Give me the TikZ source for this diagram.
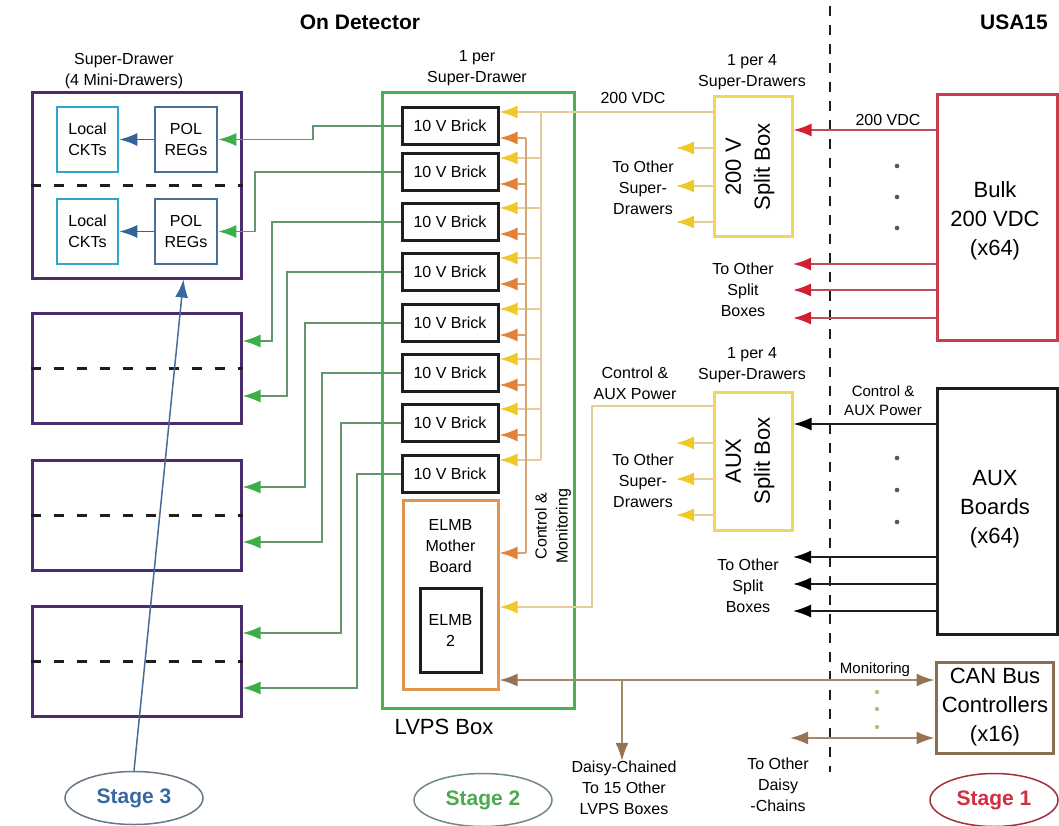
\documentclass[tikz,border=0pt]{standalone}
\usepackage{fontspec}
\setmainfont{Liberation Sans}
\usetikzlibrary{arrows.meta,shapes.geometric}
\definecolor{cpurple}{RGB}{75,45,110}
\definecolor{ccyan}{RGB}{45,165,205}
\definecolor{csteel}{RGB}{70,110,150}
\definecolor{cblue}{RGB}{50,100,150}
\definecolor{cgreenbox}{RGB}{75,175,85}
\definecolor{cgreenline}{RGB}{100,150,110}
\definecolor{cgreenhead}{RGB}{60,175,75}
\definecolor{cyelbox}{RGB}{240,215,90}
\definecolor{cyelline}{RGB}{228,205,150}
\definecolor{cyelhead}{RGB}{240,200,40}
\definecolor{corline}{RGB}{215,165,115}
\definecolor{corhead}{RGB}{225,130,55}
\definecolor{corbox}{RGB}{225,150,80}
\definecolor{credbox}{RGB}{200,60,75}
\definecolor{credline}{RGB}{190,80,90}
\definecolor{credhead}{RGB}{210,30,50}
\definecolor{cbrown}{RGB}{165,135,105}
\definecolor{cbrownhead}{RGB}{150,115,85}
\definecolor{cbrownbox}{RGB}{140,110,80}
\definecolor{cdark}{RGB}{30,30,30}
\definecolor{ctan}{RGB}{200,180,140}
\definecolor{cstagethree}{RGB}{55,105,160}
\definecolor{cstagetwo}{RGB}{75,170,80}
\definecolor{cstageone}{RGB}{210,45,65}
\tikzset{
  small/.style={font=\fontsize{16}{21}\selectfont, align=center, inner sep=0pt},
  big/.style={font=\fontsize{22}{29}\selectfont, align=center, inner sep=0pt},
  title/.style={font=\fontsize{21}{25}\selectfont\bfseries, inner sep=0pt},
  sdbox/.style={draw=cpurple, line width=3pt, minimum width=209pt, inner sep=0pt},
  sddash/.style={cdark, line width=3pt, dash pattern=on 10pt off 13pt},
  locbox/.style={draw=ccyan, line width=2.5pt, minimum width=61pt, minimum height=65pt, small},
  polbox/.style={draw=csteel, line width=2.5pt, minimum width=62pt, minimum height=65pt, small},
  brick/.style={draw=cdark, line width=3pt, minimum width=96pt, minimum height=37pt, small},
  splitbox/.style={draw=cyelbox, line width=3pt, minimum width=78pt, minimum height=140pt},
  rightbox/.style={line width=3pt, minimum width=120pt},
  ahead/.style={-{Latex[length=18pt,width=13pt,color=#1]}},
  gline/.style={cgreenline, line width=1.8pt, ahead=cgreenhead},
  yline/.style={cyelline, line width=1.8pt},
  yarr/.style={cyelline, line width=1.8pt, ahead=cyelhead},
  oline/.style={corline, line width=1.8pt},
  oarr/.style={corline, line width=1.8pt, ahead=corhead},
  rarr/.style={credline, line width=1.8pt, ahead=credhead},
  karr/.style={cdark, line width=1.8pt, ahead=black},
  barr/.style={cbrown, line width=2pt, ahead=cbrownhead},
  bbarr/.style={cbrown, line width=2pt, {Latex[length=18pt,width=13pt,color=cbrownhead]}-{Latex[length=18pt,width=13pt,color=cbrownhead]}},
  stage/.style={ellipse, draw, line width=1.5pt, minimum width=138pt, minimum height=53pt, inner sep=0pt, font=\fontsize{21}{25}\selectfont\bfseries},
}
\begin{document}
\begin{tikzpicture}[x=1pt,y=-1pt]
\useasboundingbox (0,0) rectangle (1059,826);

% titles and divider
\node[title] (tdet) at (360,22) {On Detector};
\node[title] (tusa) at (1014,22) {USA15};
\coordinate (divtop) at (830,6);
\coordinate (divbot) at (830,772);
\draw[cdark, line width=1.8pt, dash pattern=on 10pt off 9pt] (divtop) -- (divbot);

% super-drawers
\node[small] (sdlab) at (124,71) {Super-Drawer\\(4 Mini-Drawers)};
\node[sdbox, minimum height=185pt] (sd1) at (136.5,185.5) {};
\node[sdbox, minimum height=110pt] (sd2) at (136.5,368.5) {};
\node[sdbox, minimum height=110pt] (sd3) at (136.5,515.5) {};
\node[sdbox, minimum height=110pt] (sd4) at (136.5,661) {};
\foreach \i in {1,2,3,4} {
  \draw[sddash] (sd\i.west) -- (sd\i.east);
}
\node[locbox] (loc1) at (87.5,139.5) {Local\\CKTs};
\node[polbox] (pol1) at (186,139.5) {POL\\REGs};
\node[locbox] (loc2) at (87.5,231.5) {Local\\CKTs};
\node[polbox] (pol2) at (186,231.5) {POL\\REGs};
\draw[cblue, line width=1.8pt, ahead=cblue] (pol1) -- (loc1);
\draw[cblue, line width=1.8pt, ahead=cblue] (pol2) -- (loc2);

% LVPS box
\node[small] (lvpslab) at (477,68) {1 per\\Super-Drawer};
\node[draw=cgreenbox, line width=3pt, minimum width=192pt, minimum height=615pt, inner sep=0pt] (lvps) at (478,400.5) {};
\node[font=\fontsize{22}{26}\selectfont, inner sep=0pt] (lvpsname) at (444,727) {LVPS Box};

\foreach \i/\y in {1/126,2/172,3/222,4/272,5/323,6/373,7/423,8/474} {
  \node[brick] (b\i) at (450,\y) {10 V Brick};
  \coordinate (by\i) at ([yshift=14pt]b\i.east);
  \coordinate (bo\i) at ([yshift=-12pt]b\i.east);
}
\node[draw=corbox, line width=3pt, minimum width=95pt, minimum height=189pt, inner sep=0pt] (mb) at (450.5,594.5) {};
\node[small] (mbtext) at (450.5,546) {ELMB\\Mother\\Board};
\node[draw=cdark, line width=3pt, minimum width=61pt, minimum height=84pt, small] (elmb) at (450.5,630) {ELMB\\2};
\coordinate (mbo) at ([yshift=41.5pt]mb.east);
\coordinate (mbaux) at ([yshift=-12.5pt]mb.east);
\coordinate (mbmon) at ([yshift=-85.5pt]mb.east);
\node[small, rotate=90] (cmlab) at (553,526) {Control \&\\Monitoring};

% green outputs
\coordinate (g1) at (313,0);
\coordinate (g2) at (255,0);
\coordinate (g3) at (272,0);
\coordinate (g4) at (287,0);
\coordinate (g5) at (305,0);
\coordinate (g6) at (322,0);
\coordinate (g7) at (341,0);
\coordinate (g8) at (357,0);
\coordinate (t3) at ([yshift=27.5pt]sd2.east);
\coordinate (t4) at ([yshift=-27.5pt]sd2.east);
\coordinate (t5) at ([yshift=28.5pt]sd3.east);
\coordinate (t6) at ([yshift=-26.5pt]sd3.east);
\coordinate (t7) at ([yshift=28pt]sd4.east);
\coordinate (t8) at ([yshift=-27pt]sd4.east);
\draw[gline] (b1.west) -| (g1 |- pol1.east) -- (pol1.east);
\draw[gline] (b2.west) -| (g2 |- pol2.east) -- (pol2.east);
\foreach \i in {3,...,8} {
  \draw[gline] (b\i.west) -| (g\i |- t\i) -- (t\i);
}

% 200 V split box
\node[small] (sb200lab) at (752,72) {1 per 4\\Super-Drawers};
\node[splitbox] (sb200) at (753,167) {};
\node[big, rotate=90] (sb200txt) at (750,167) {200 V\\Split Box};
\node[small] (vdcl) at (633,98) {200 VDC};
\coordinate (ybus) at (541,0);
\draw[yarr] ([yshift=55pt]sb200.west) -- (by1);
\draw[yline] (ybus |- by1) -- (ybus |- by8);
\foreach \i in {2,...,8} {
  \draw[yarr] (ybus |- by\i) -- (by\i);
}
\coordinate (obus) at (526,0);
\draw[oline] (obus |- bo1) -- (obus |- mbo);
\foreach \i in {1,...,7} {
  \draw[oarr] (obus |- bo\i) -- (bo\i);
}
\draw[oarr] (obus |- mbo) -- (mbo);

\foreach \i/\y in {1/148,2/186,3/222} {
  \coordinate (ya\i) at (676,\y);
  \draw[yarr] (sb200.west |- ya\i) -- (ya\i);
}
\node[small] (tosd1) at (643,188) {To Other\\Super-\\Drawers};

% Bulk
\node[rightbox, draw=credbox, minimum height=245pt] (bulk) at (997,217.5) {};
\node[big] (bulktxt) at (995,221) {Bulk\\200 VDC\\(x64)};
\coordinate (bulkin) at ([yshift=87.5pt]bulk.west);
\draw[rarr] (bulkin) -- (sb200.east |- bulkin);
\node[small] (vdcr) at (888,120) {200 VDC};
\foreach \y in {166,197,228} { \fill[cdark!75] (897,\y) circle (2.3pt); }
\foreach \i/\y in {1/264,2/290,3/318} {
  \coordinate (rt\i) at (793,\y);
  \draw[rarr] (bulk.west |- rt\i) -- (rt\i);
}
\node[small] (tosb1) at (743,290) {To Other\\Split\\Boxes};

% AUX split box
\node[small] (sbauxlab) at (752,365) {1 per 4\\Super-Drawers};
\node[splitbox, minimum height=138pt] (sbaux) at (753,461) {};
\node[big, rotate=90] (sbauxtxt) at (750,461) {AUX\\Split Box};
\node[small] (auxl) at (635,383) {Control \&\\AUX Power};
\coordinate (auxdrop) at (592,0);
\draw[yarr] ([yshift=55pt]sbaux.west) -| (auxdrop |- mbaux) -- (mbaux);
\foreach \i/\y in {1/443,2/479,3/515} {
  \coordinate (yb\i) at (676,\y);
  \draw[yarr] (sbaux.west |- yb\i) -- (yb\i);
}
\node[small] (tosd2) at (643,481) {To Other\\Super-\\Drawers};

% AUX boards
\node[rightbox, draw=cdark, minimum height=246pt] (auxb) at (997,511) {};
\node[big] (auxbtxt) at (995,509) {AUX\\Boards\\(x64)};
\coordinate (auxin) at ([yshift=87pt]auxb.west);
\draw[karr] (auxin) -- (sbaux.east |- auxin);
\node[font=\fontsize{15}{19}\selectfont, align=center, inner sep=0pt] (auxr) at (883,401) {Control \&\\AUX Power};
\foreach \y in {458,490,522} { \fill[cdark!75] (897,\y) circle (2.3pt); }
\foreach \i/\y in {1/557,2/584,3/611} {
  \coordinate (kt\i) at (793,\y);
  \draw[karr] (auxb.west |- kt\i) -- (kt\i);
}
\node[small] (tosb2) at (748,586) {To Other\\Split\\Boxes};

% CAN bus
\node[rightbox, draw=cbrownbox, minimum width=117pt, minimum height=91pt] (can) at (994.5,707.5) {};
\node[big] (cantxt) at (995,707) {CAN Bus\\Controllers\\(x16)};
\draw[bbarr] (mbmon) -- (can.west |- mbmon);
\node[font=\fontsize{15}{19}\selectfont, inner sep=0pt] (monlab) at (875,670) {Monitoring};
\coordinate (dcb) at (622,0);
\node[small] (daisy) at (624,788) {Daisy-Chained\\To 15 Other\\LVPS Boxes};
\draw[barr] (dcb |- mbmon) -- (daisy.north -| dcb);
\coordinate (odc) at (790,738);
\draw[bbarr] (odc) -- (can.west |- odc);
\foreach \y in {692,709,727} { \fill[ctan] (877,\y) circle (2.2pt); }
\node[small] (odctxt) at (778,785) {To Other\\Daisy\\-Chains};

% stages
\node[stage, draw=gray!70!cblue, text=cstagethree] (st3) at (134,798) {Stage 3};
\node[stage, draw=gray!70!cstagetwo, text=cstagetwo] (st2) at (483,800) {Stage 2};
\node[stage, draw=credbox!80!black, text=cstageone, minimum width=128pt] (st1) at (994,800) {Stage 1};
\draw[cstagethree!80!gray, line width=1.5pt, ahead=cstagethree] (st3.north) -- ([xshift=47pt]sd1.south);
\end{tikzpicture}
\end{document}
